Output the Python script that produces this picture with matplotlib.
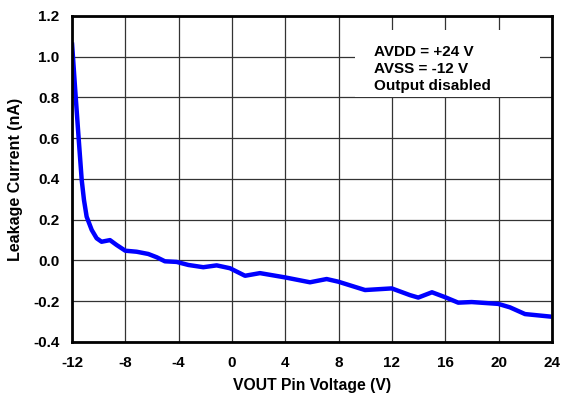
import matplotlib.pyplot as plt
import numpy as np

plt.switch_backend('Agg')
plt.rcParams['font.family'] = ['Liberation Sans', 'DejaVu Sans']
plt.rcParams['font.weight'] = 'bold'
plt.rcParams['axes.unicode_minus'] = False

# valeurs (V, nA)
vout = [-12.0, -11.75, -11.5, -11.27, -11.1, -10.9, -10.52, -10.15, -9.78, -9.15,
        -8.65, -8.0, -7.15, -6.28, -5.65, -5.03, -4.15, -3.27, -2.15, -1.15,
        -0.15, 0.98, 2.1, 3.98, 5.85, 7.1, 7.97, 9.98, 11.98, 13.35,
        13.97, 15.0, 15.98, 16.97, 17.98, 19.97, 20.85, 21.98, 23.98]
leak = [1.07, 0.83, 0.6, 0.395, 0.297, 0.215, 0.15, 0.109, 0.092, 0.10,
        0.076, 0.048, 0.043, 0.032, 0.016, -0.004, -0.007, -0.022, -0.033, -0.024,
        -0.038, -0.075, -0.062, -0.083, -0.107, -0.091, -0.104, -0.145, -0.137, -0.17,
        -0.182, -0.156, -0.18, -0.207, -0.204, -0.213, -0.23, -0.263, -0.276]

xticks = [-12, -8, -4, 0, 4, 8, 12, 16, 20, 24]
yticks = [-0.4, -0.2, 0.0, 0.2, 0.4, 0.6, 0.8, 1.0, 1.2]
conditions = "AVDD = +24 V\nAVSS = -12 V\nOutput disabled"

fig = plt.figure(figsize=(5.61, 3.96), dpi=100)
ax = fig.add_axes([0.1283, 0.1364, 0.8556, 0.8232])

ax.plot(vout, leak, color='#0000ff', lw=3.2, solid_joinstyle='round',
        solid_capstyle='butt', zorder=3)

ax.set_xlim(-12, 24)
ax.set_ylim(-0.4, 1.2)
ax.set_xticks(xticks)
ax.set_yticks(yticks)
ax.set_yticklabels([f"{v:.1f}" for v in yticks])
ax.tick_params(length=0, labelsize=11, pad=10)
ax.tick_params(axis='y', pad=9)
ax.grid(True, color='0.2', lw=0.9)
for s in ax.spines.values():
    s.set_linewidth(2)
    s.set_zorder(5)

ax.set_xlabel("VOUT Pin Voltage (V)", fontsize=11.3, fontweight='bold', labelpad=6)
ax.set_ylabel("Leakage Current (nA)", fontsize=11.5, fontweight='bold', labelpad=7)

# encadré blanc avec les conditions de test
ax.add_patch(plt.Rectangle((0.59, 0.752), 0.385, 0.205, transform=ax.transAxes,
                           facecolor='white', edgecolor='none', zorder=4))
ax.text(0.629, 0.912, conditions, transform=ax.transAxes, fontsize=11,
        fontweight='bold', va='top', linespacing=1.27, zorder=5)

plt.savefig("out.png")
plt.close()
